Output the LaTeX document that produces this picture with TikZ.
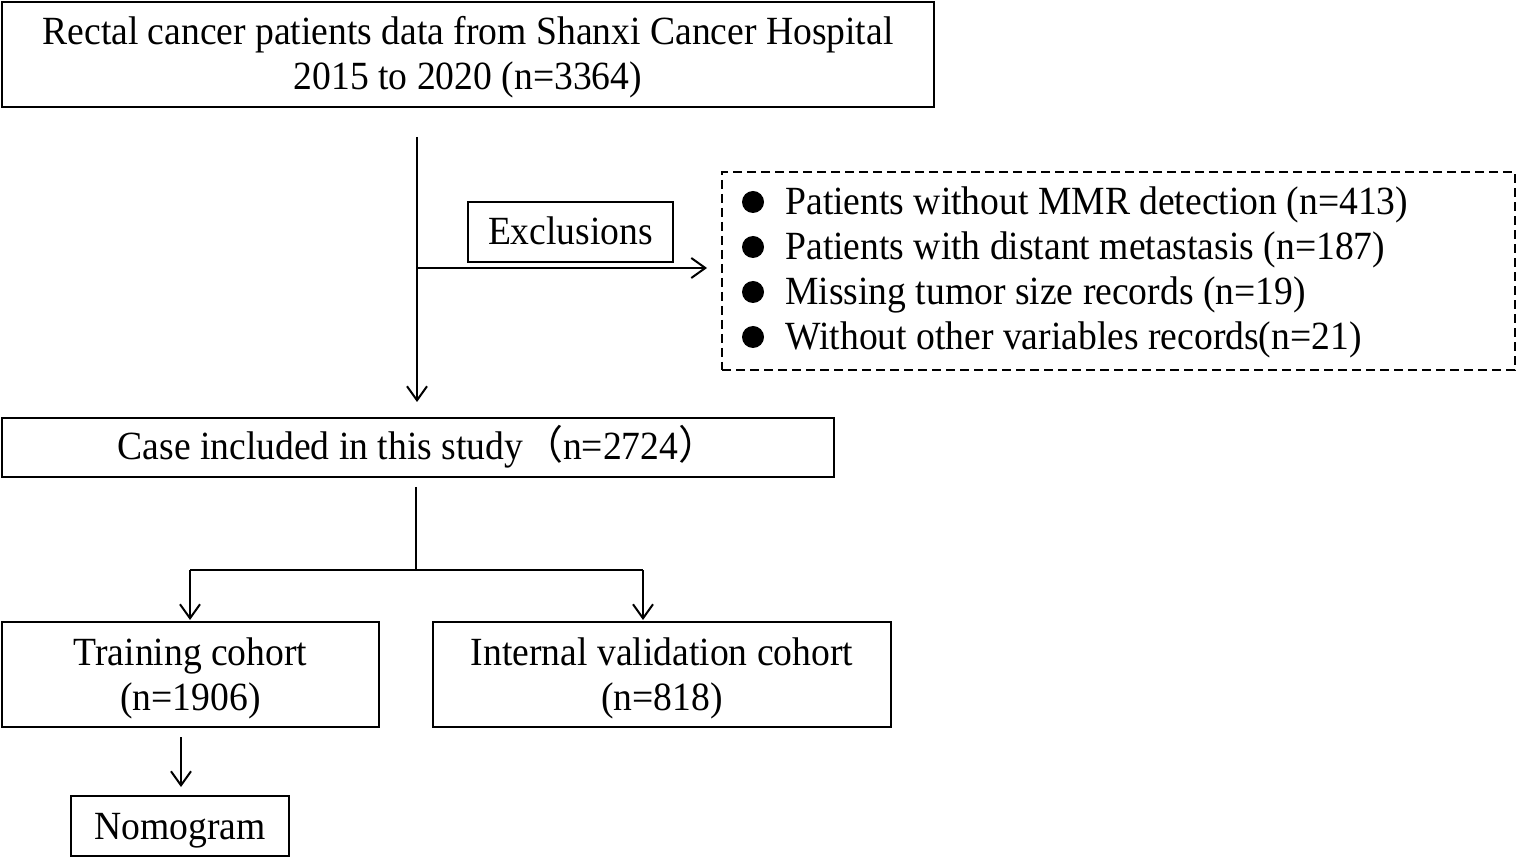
\documentclass[tikz,border=0pt]{standalone}
\usepackage{fontspec}
\setmainfont{Liberation Serif}[FakeStretch=0.94]
\newfontfamily\cjk{Noto Sans CJK SC}
\usetikzlibrary{arrows.meta}
\tikzset{
  box/.style={draw=black, line width=1.4pt, inner sep=0pt, align=center,
    font=\fontsize{20}{22.5}\selectfont},
  twoline/.style={text height=35.5pt, text depth=0pt},
  oneline/.style={text height=13pt, text depth=0pt},
  dbox/.style={draw=black, line width=1pt, dash pattern=on 4.5pt off 2.5pt, inner sep=0pt},
  item/.style={anchor=base west, inner sep=0pt, font=\fontsize{20}{22.5}\selectfont},
  conn/.style={line width=1pt},
  arr/.style={line width=1pt, -{Straight Barb[length=7pt,width=10pt,line width=1pt]}},
}
\begin{document}
\begin{tikzpicture}[x=0.5pt,y=-0.5pt]
\useasboundingbox (0,0) rectangle (1519,860);
% boxes
\node[box, twoline, minimum width=466pt, minimum height=52.5pt] (src) at (468,54.5)
  {Rectal cancer patients data from Shanxi Cancer Hospital\\2015 to 2020 (n=3364)};
\node[box, oneline, minimum width=102.5pt, minimum height=30pt] (excl) at (570.5,232) {Exclusions};
\node[dbox, minimum width=396.5pt, minimum height=99pt] (list) at (1118.5,271) {};
\node[box, text height=11.5pt, text depth=0pt, minimum width=416pt, minimum height=29.5pt] (case) at (418,447.5)
  {Case included in this study{\cjk （}n=2724{\cjk ）}};
\node[box, twoline, minimum width=188.5pt, minimum height=52.5pt] (train) at (190.5,674.5)
  {Training cohort\\(n=1906)};
\node[box, twoline, minimum width=229pt, minimum height=52.5pt] (valid) at (662,674.5)
  {Internal validation cohort\\(n=818)};
\node[box, oneline, minimum width=109pt, minimum height=30pt] (nomo) at (180,826) {Nomogram};
% list items
\node[item] (i1) at (785,215) {Patients without MMR detection (n=413)};
\node[item] (i2) at (785,260) {Patients with distant metastasis (n=187)};
\node[item] (i3) at (785,305) {Missing tumor size records (n=19)};
\node[item] (i4) at (785,350) {Without other variables records(n=21)};
\foreach \y in {202,247,292,337} \fill (753,\y) circle (5.5pt);
% connector points
\coordinate (m1) at (417,137);
\coordinate (m2) at (417,402);
\coordinate (h1) at (417,268);
\coordinate (h2) at (707,268);
\coordinate (s1) at (416,487);
\coordinate (s2) at (416,570);
\coordinate (l1) at (190,570);
\coordinate (l2) at (190,620);
\coordinate (r1) at (643,570);
\coordinate (r2) at (643,620);
\coordinate (n1) at (181,737);
\coordinate (n2) at (181,787);
% connectors
\draw[arr] (m1) -- (m2);
\draw[arr] (h1) -- (h2);
\draw[conn] (s1) -- (s2);
\draw[conn] (l1) -- (r1);
\draw[arr] (l1) -- (l2);
\draw[arr] (r1) -- (r2);
\draw[arr] (n1) -- (n2);
\end{tikzpicture}
\end{document}
